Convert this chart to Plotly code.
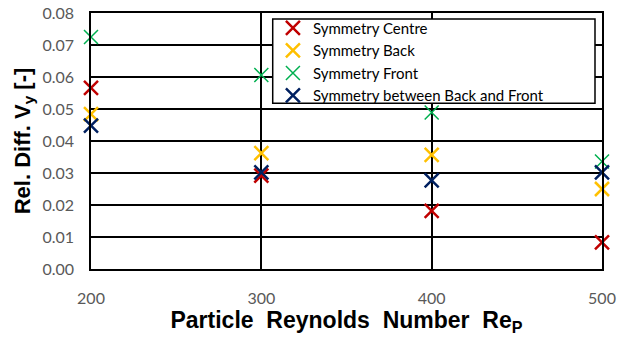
import plotly.graph_objects as go

re_p = [200, 300, 400, 500]
centre = [0.0566, 0.0292, 0.0182, 0.0083]
back = [0.0484, 0.0362, 0.0357, 0.0250]
front = [0.0725, 0.0606, 0.0489, 0.0336]
between = [0.0448, 0.0302, 0.0277, 0.0302]

series = [
    ("Symmetry Centre", centre, "#C00000", 2.5),
    ("Symmetry Back", back, "#FFC000", 2.5),
    ("Symmetry Front", front, "#00B050", 1.5),
    ("Symmetry between Back and Front", between, "#002060", 2.5),
]

fig = go.Figure()
for name, vals, col, lw in series:
    fig.add_trace(go.Scatter(
        x=re_p, y=vals, mode="markers", name=name,
        marker=dict(symbol="x-thin", size=14, line=dict(color=col, width=lw), color=col),
        cliponaxis=False,
    ))

# legend frame
fig.add_shape(type="rect", xref="paper", yref="paper",
              x0=0.3556, x1=0.9863, y0=0.647, y1=0.977,
              fillcolor="white", line=dict(color="black", width=1.5), layer="above")

fig.update_layout(
    width=624, height=340,
    margin=dict(l=91, r=22, t=13, b=71),
    paper_bgcolor="white", plot_bgcolor="white",
    font=dict(family="Lato, Open Sans, sans-serif", size=16, color="#595959"),
    legend=dict(
        x=0.356, y=1.005, xanchor="left", yanchor="top",
        bgcolor="rgba(0,0,0,0)", borderwidth=0,
        font=dict(family="Lato, sans-serif", size=15, color="#000000"),
        tracegroupgap=0, itemwidth=30,
    ),
    showlegend=True,
)
fig.update_xaxes(
    range=[200, 500], tickvals=[200, 300, 400, 500],
    showgrid=True, gridcolor="black", gridwidth=1.5,
    showline=True, linecolor="black", linewidth=1.5, mirror=True,
    zeroline=False, ticks="", ticklabelstandoff=14, automargin=False,
    title=dict(text="<b>Particle&nbsp; Reynolds&nbsp; Number&nbsp; Re<sub>P</sub></b>",
               font=dict(family="Liberation Sans, Arial", size=23, color="black"),
               standoff=4),
)
fig.update_yaxes(
    range=[0, 0.08], tickvals=[0, 0.01, 0.02, 0.03, 0.04, 0.05, 0.06, 0.07, 0.08],
    tickformat=".2f",
    showgrid=True, gridcolor="black", gridwidth=1.5,
    showline=True, linecolor="black", linewidth=1.5, mirror=True,
    zeroline=False, ticks="", ticklabelstandoff=12, automargin=False,
    title=dict(text="<b>Rel. Diff. V<sub>y</sub> [-]</b>",
               font=dict(family="Liberation Sans, Arial", size=22, color="black"),
               standoff=6),
)

fig.write_html("out.html")
